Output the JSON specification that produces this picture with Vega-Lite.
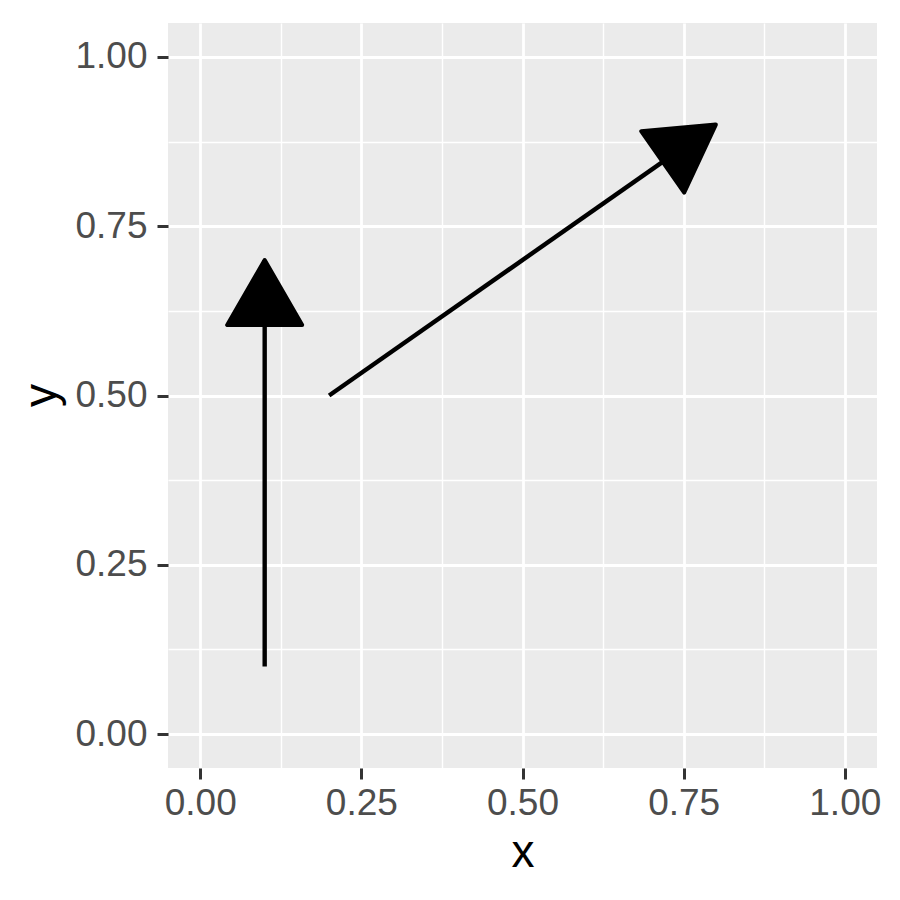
{
  "$schema": "https://vega.github.io/schema/vega-lite/v6.json",
  "width": 709,
  "height": 745,
  "autosize": {"type": "none"},
  "padding": {"left": 168, "top": 23, "right": 23, "bottom": 132},
  "background": "white",
  "config": {
    "view": {"fill": "#EBEBEB", "stroke": null},
    "axis": {
      "domain": false,
      "grid": true,
      "gridColor": "white",
      "tickColor": "#333333",
      "tickSize": 11,
      "tickWidth": 3,
      "labelColor": "#4D4D4D",
      "labelFont": "Liberation Sans",
      "labelFontSize": 37,
      "titleFont": "Liberation Sans",
      "titleFontSize": 46,
      "titleFontWeight": "normal",
      "titleColor": "black"
    }
  },
  "data": {
    "values": [
      {"id": "a", "x": 0.1, "y": 0.1, "xend": 0.1, "yend": 0.7},
      {"id": "b", "x": 0.2, "y": 0.5, "xend": 0.8, "yend": 0.9}
    ]
  },
  "encoding": {
    "x": {
      "field": "x", "type": "quantitative",
      "scale": {"domain": [-0.05, 1.05], "nice": false, "zero": false},
      "axis": {
        "title": "x",
        "values": [0, 0.125, 0.25, 0.375, 0.5, 0.625, 0.75, 0.875, 1],
        "labelExpr": "(datum.value * 4) % 1 != 0 ? '' : format(datum.value, '.2f')",
        "gridWidth": {"condition": {"test": "(datum.value * 4) % 1 != 0", "value": 1.4}, "value": 2.8},
        "tickOpacity": {"condition": {"test": "(datum.value * 4) % 1 != 0", "value": 0}, "value": 1},
        "labelPadding": 6,
        "labelFlush": false,
        "labelOverlap": false,
        "titleBaseline": "alphabetic",
        "titleY": 98
      }
    },
    "y": {
      "field": "y", "type": "quantitative",
      "scale": {"domain": [-0.05, 1.05], "nice": false, "zero": false},
      "axis": {
        "title": "y",
        "values": [0, 0.125, 0.25, 0.375, 0.5, 0.625, 0.75, 0.875, 1],
        "labelExpr": "(datum.value * 4) % 1 != 0 ? '' : format(datum.value, '.2f')",
        "gridWidth": {"condition": {"test": "(datum.value * 4) % 1 != 0", "value": 1.4}, "value": 2.8},
        "tickOpacity": {"condition": {"test": "(datum.value * 4) % 1 != 0", "value": 0}, "value": 1},
        "labelPadding": 10,
        "labelFlush": false,
        "labelOverlap": false,
        "labelBaseline": "middle",
        "titleAngle": -90,
        "titleBaseline": "alphabetic",
        "titleAlign": "center",
        "titleX": -113,
        "titleY": 372
      }
    }
  },
  "layer": [
    {
      "mark": {"type": "rule", "color": "black", "strokeWidth": 4.4, "strokeCap": "butt"},
      "encoding": {
        "x2": {"field": "xend"},
        "y2": {"field": "yend"}
      }
    },
    {
      "transform": [{"filter": "datum.id == 'a'"}],
      "mark": {
        "type": "point",
        "shape": "M0,0 L-0.5,0.866 L0.5,0.866 Z",
        "size": 22500,
        "filled": true,
        "color": "black",
        "stroke": "black",
        "strokeWidth": 4,
        "strokeJoin": "round",
        "opacity": 1,
        "angle": 0
      },
      "encoding": {
        "x": {"field": "xend", "type": "quantitative"},
        "y": {"field": "yend", "type": "quantitative"}
      }
    },
    {
      "transform": [{"filter": "datum.id == 'b'"}],
      "mark": {
        "type": "point",
        "shape": "M0,0 L-0.5,0.866 L0.5,0.866 Z",
        "size": 22500,
        "filled": true,
        "color": "black",
        "stroke": "black",
        "strokeWidth": 4,
        "strokeJoin": "round",
        "opacity": 1,
        "angle": 55
      },
      "encoding": {
        "x": {"field": "xend", "type": "quantitative"},
        "y": {"field": "yend", "type": "quantitative"}
      }
    }
  ]
}
